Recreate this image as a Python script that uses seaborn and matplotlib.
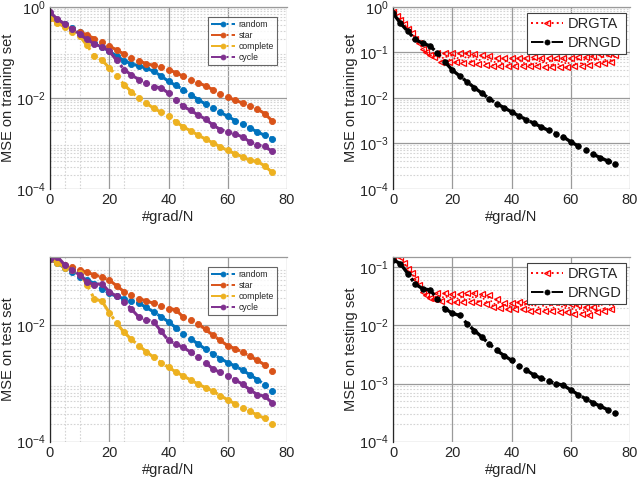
import numpy as np
import pandas as pd
import matplotlib
matplotlib.use("Agg")
import matplotlib.pyplot as plt
import seaborn as sns
from matplotlib.ticker import FixedLocator, NullFormatter, FixedFormatter

# ---------------- data ----------------
x_left = [0, 2.5, 5, 7.5, 10, 12.5, 15, 17.5, 20, 22.5, 25, 27.5, 30, 32.5, 35, 37.5,
          40, 42.5, 45, 47.5, 50, 52.5, 55, 57.5, 60, 62.5, 65, 67.5, 70, 72.5, 75]

train_random = [0.589, 0.501, 0.417, 0.339, 0.275, 0.214, 0.162, 0.129, 0.105, 0.0832, 0.0646,
                0.0562, 0.0501, 0.0447, 0.0380, 0.0302, 0.0229, 0.0186, 0.0151, 0.0117, 0.00912,
                0.00724, 0.00589, 0.00479, 0.00389, 0.00316, 0.00263, 0.00214, 0.00178, 0.00148, 0.00126]
train_star = [0.562, 0.468, 0.389, 0.331, 0.282, 0.240, 0.200, 0.166, 0.138, 0.112, 0.0912,
              0.0759, 0.0646, 0.0562, 0.0513, 0.0479, 0.0417, 0.0355, 0.0295, 0.0251, 0.0214,
              0.0182, 0.0151, 0.0123, 0.0102, 0.00891, 0.00759, 0.00661, 0.00562, 0.00447, 0.00309]
train_complete = [0.562, 0.447, 0.355, 0.282, 0.229, 0.141, 0.0832, 0.0676, 0.0457, 0.0302, 0.0195,
                  0.0135, 0.00977, 0.00759, 0.00589, 0.00479, 0.00389, 0.00295, 0.00229, 0.00186,
                  0.00151, 0.00123, 0.00102, 0.000832, 0.000692, 0.000589, 0.000501, 0.000417,
                  0.000398, 0.000316, 0.000229]
train_cycle = [0.759, 0.537, 0.417, 0.331, 0.251, 0.191, 0.151, 0.132, 0.107, 0.0661, 0.0417,
               0.0316, 0.0251, 0.0209, 0.0174, 0.0166, 0.0126, 0.00891, 0.00646, 0.00525, 0.00417,
               0.00339, 0.00251, 0.00200, 0.00178, 0.00158, 0.00138, 0.00107, 0.000912, 0.000851, 0.000661]

test_random = [0.138, 0.117, 0.0977, 0.0813, 0.0692, 0.0603, 0.0525, 0.0427, 0.0355, 0.0316, 0.0288,
               0.0263, 0.0240, 0.0204, 0.0170, 0.0141, 0.0115, 0.00912, 0.00724, 0.00589, 0.00479,
               0.00389, 0.00324, 0.00269, 0.00229, 0.00200, 0.00170, 0.00141, 0.00117, 0.000955, 0.000759]
test_star = [0.138, 0.123, 0.110, 0.100, 0.0912, 0.0813, 0.0741, 0.0676, 0.0603, 0.0479, 0.0380,
             0.0331, 0.0288, 0.0263, 0.0240, 0.0219, 0.0195, 0.0186, 0.0138, 0.0123, 0.0107,
             0.00851, 0.00676, 0.00550, 0.00447, 0.00398, 0.00347, 0.00295, 0.00251, 0.00209, 0.00162]
test_complete = [0.138, 0.120, 0.0977, 0.0891, 0.0794, 0.0501, 0.0282, 0.0263, 0.0166, 0.0110, 0.00759,
                 0.00575, 0.00447, 0.00355, 0.00282, 0.00229, 0.00191, 0.00158, 0.00135, 0.00115,
                 0.000977, 0.000851, 0.000741, 0.000617, 0.000525, 0.000447, 0.000380, 0.000331,
                 0.000288, 0.000251, 0.000200]
test_cycle = [0.138, 0.151, 0.110, 0.0891, 0.0741, 0.0562, 0.0501, 0.0525, 0.0380, 0.0316, 0.0257,
              0.0191, 0.0138, 0.0126, 0.0115, 0.00794, 0.00550, 0.00479, 0.00417, 0.00347, 0.00282,
              0.00229, 0.00178, 0.00155, 0.00135, 0.00115, 0.000977, 0.000776, 0.000646, 0.000603, 0.000468]

x_drngd = x_left
train_drngd = [0.724, 0.437, 0.288, 0.191, 0.158, 0.138, 0.0955, 0.0617, 0.0407, 0.0302, 0.0224,
               0.0166, 0.0126, 0.00955, 0.00741, 0.00603, 0.00490, 0.00398, 0.00331, 0.00275, 0.00229,
               0.00191, 0.00162, 0.00138, 0.00107, 0.000871, 0.000708, 0.000575, 0.000479, 0.000407, 0.000355]
test_drngd = [0.135, 0.115, 0.0776, 0.0513, 0.0427, 0.0407, 0.0288, 0.0195, 0.0162, 0.0148, 0.0107,
              0.00813, 0.00631, 0.00479, 0.00372, 0.00302, 0.00251, 0.00204, 0.00170, 0.00141, 0.00123,
              0.00110, 0.00100, 0.000933, 0.000776, 0.000646, 0.000550, 0.000468, 0.000407, 0.000355, 0.000309]

x_drgta = [0, 1.25, 2.5, 3.75, 5, 6.25, 7.5, 8.75, 10, 11.25, 12.5, 13.75, 15, 16.25, 17.5, 18.75,
           20, 21.25, 22.5, 23.75, 25, 26.25, 27.5, 28.75, 30, 31.25, 32.5, 33.75, 35, 36.25, 37.5,
           38.75, 40, 41.25, 42.5, 43.75, 45, 46.25, 47.5, 48.75, 50, 51.25, 52.5, 53.75, 55, 56.25,
           57.5, 58.75, 60, 61.25, 62.5, 63.75, 65, 66.25, 67.5, 68.75, 70, 71.25, 72.5, 73.75, 75]
train_drgta = [0.78, 0.62, 0.52, 0.42, 0.33, 0.26, 0.20, 0.16, 0.12, 0.10, 0.087, 0.078, 0.095, 0.062,
               0.095, 0.060, 0.097, 0.060, 0.096, 0.058, 0.095, 0.057, 0.092, 0.056, 0.088, 0.053,
               0.082, 0.051, 0.076, 0.049, 0.074, 0.050, 0.075, 0.050, 0.076, 0.050, 0.075, 0.049,
               0.077, 0.049, 0.076, 0.048, 0.075, 0.048, 0.074, 0.047, 0.073, 0.047, 0.075, 0.049,
               0.077, 0.051, 0.080, 0.053, 0.084, 0.056, 0.090, 0.059, 0.092, 0.060, 0.085]
test_drgta = [0.14, 0.16, 0.15, 0.12, 0.095, 0.080, 0.062, 0.050, 0.038, 0.033, 0.030, 0.028, 0.036,
              0.026, 0.036, 0.026, 0.035, 0.025, 0.035, 0.025, 0.036, 0.025, 0.036, 0.024, 0.035,
              0.023, 0.033, 0.021, 0.028, 0.020, 0.024, 0.019, 0.024, 0.019, 0.025, 0.019, 0.025,
              0.018, 0.026, 0.018, 0.027, 0.018, 0.025, 0.018, 0.025, 0.017, 0.024, 0.017, 0.023,
              0.016, 0.022, 0.016, 0.021, 0.015, 0.021, 0.017, 0.026, 0.018, 0.027, 0.019, 0.026]

topo_names = ["random", "star", "complete", "cycle"]
topo_colors = ["#0072BD", "#D95319", "#EDB120", "#7E2F8E"]

# ---------------- style ----------------
sns.set_theme(style="white")
plt.rcParams["font.family"] = ["Liberation Sans", "DejaVu Sans"]
plt.rcParams["mathtext.fontset"] = "custom"
plt.rcParams["mathtext.rm"] = "Liberation Sans"
plt.rcParams["mathtext.it"] = "Liberation Sans:italic"

fig = plt.figure(figsize=(6.4, 4.8), dpi=100)
W, H = 640.0, 480.0
def rect(l, r, t, b):
    return [l / W, 1 - b / H, (r - l) / W, (b - t) / H]

ax_tl = fig.add_axes(rect(50, 287, 6.8, 188.7))
ax_tr = fig.add_axes(rect(393, 630, 6.8, 188.7))
ax_bl = fig.add_axes(rect(50, 287, 257, 441.7))
ax_br = fig.add_axes(rect(393, 630, 257, 441.7))

major_c = "#9a9a9a"
minor_c = "#d4d4d4"

def minor_positions(lo_exp, hi_exp, top):
    vals = []
    for e in range(lo_exp, hi_exp + 1):
        for m in range(2, 10):
            v = m * 10.0 ** e
            if v < top:
                vals.append(v)
    return vals

def style_axes(ax, ytop, ymaj, ylabel, xminor, xmajor_grid):
    ax.set_yscale("log")
    ax.set_xlim(0, 80)
    ax.set_ylim(1e-4, ytop)
    ax.set_xticks([0, 20, 40, 60, 80])
    ax.yaxis.set_major_locator(FixedLocator(ymaj))
    ax.yaxis.set_major_formatter(FixedFormatter(
        [r"$\mathregular{10^{%d}}$" % int(round(np.log10(v))) for v in ymaj]))
    ax.yaxis.set_minor_locator(FixedLocator(minor_positions(-4, 0, ytop)))
    ax.yaxis.set_minor_formatter(NullFormatter())
    ax.xaxis.set_minor_locator(FixedLocator(xminor))
    ax.yaxis.grid(True, which="major", color=major_c, lw=0.9, ls="-")
    ax.xaxis.grid(xmajor_grid, which="major", color=major_c, lw=0.9, ls="-")
    ax.grid(True, which="minor", color=minor_c, lw=0.8, ls=(0, (1.5, 1.5)))
    ax.set_axisbelow(True)
    for s in ["bottom", "right"]:
        ax.spines[s].set_visible(False)
    ax.spines["top"].set_color(major_c)
    ax.spines["top"].set_linewidth(0.9)
    ax.spines["left"].set_color("#262626")
    ax.spines["left"].set_linewidth(0.9)
    ax.tick_params(which="both", length=0, labelsize=10.5, colors="#262626", pad=3)
    ax.set_xlabel("#grad/N", fontsize=10.5, color="#262626", labelpad=2)
    ax.set_ylabel(ylabel, fontsize=10.5, color="#262626", labelpad=1)

# left panels
for ax, data, ylab, ytop, ymaj, anchor in [
        (ax_tl, [train_random, train_star, train_complete, train_cycle], "MSE on training set",
         1.0, [1e-4, 1e-2, 1e0], (0.958, 0.944)),
        (ax_bl, [test_random, test_star, test_complete, test_cycle], "MSE on test set",
         0.15, [1e-4, 1e-2], (0.958, 0.946))]:
    for name, col, vals in zip(topo_names, topo_colors, data):
        sns.lineplot(x=x_left, y=vals, ax=ax, color=col, marker="o", markersize=4.4,
                     markeredgecolor=col, markerfacecolor=col, markeredgewidth=0.6,
                     linestyle="-.", linewidth=2.2, label=name)
    style_axes(ax, ytop, ymaj, ylab, [5, 10, 25, 45], False)
    leg = ax.legend(loc="upper right", bbox_to_anchor=anchor, fontsize=6.2, frameon=True,
                    fancybox=False, edgecolor="#404040", borderpad=0.35, labelspacing=0.25,
                    handlelength=2.8, handletextpad=0.4, borderaxespad=0, markerscale=0.8)
    leg.get_frame().set_linewidth(0.8)
    for ln in leg.get_lines():
        ln.set_linewidth(1.4)

# right panels
for ax, gta, ngd, ylab, ytop, anchor in [
        (ax_tr, train_drgta, train_drngd, "MSE on training set", 1.0, (0.983, 0.966)),
        (ax_br, test_drgta, test_drngd, "MSE on testing set", 0.15, (0.983, 0.967))]:
    sns.lineplot(x=x_drgta, y=gta, ax=ax, color="#ff0000", marker="<", markersize=5.0,
                 markeredgecolor="#ff0000", markerfacecolor="none", markeredgewidth=0.9,
                 linestyle=":", linewidth=1.2, label="DRGTA")
    sns.lineplot(x=x_drngd, y=ngd, ax=ax, color="black", marker="o", markersize=4.0,
                 markeredgecolor="black", markerfacecolor="black", markeredgewidth=0.6,
                 linestyle="-.", linewidth=2.4, label="DRNGD")
    ymaj = [v for v in [1e-4, 1e-3, 1e-2, 1e-1, 1e0] if v <= ytop * 1.0001]
    style_axes(ax, ytop, ymaj, ylab, [], True)
    leg = ax.legend(loc="upper right", bbox_to_anchor=anchor, fontsize=10.5, frameon=True,
                    fancybox=False, edgecolor="#404040", borderpad=0.3, labelspacing=0.3,
                    handlelength=2.2, handletextpad=0.3, borderaxespad=0, framealpha=1,
                    markerscale=0.9)
    leg.get_frame().set_linewidth(0.8)
    for ln in leg.get_lines():
        ln.set_linewidth(1.4)

fig.savefig("out.png", dpi=100)
